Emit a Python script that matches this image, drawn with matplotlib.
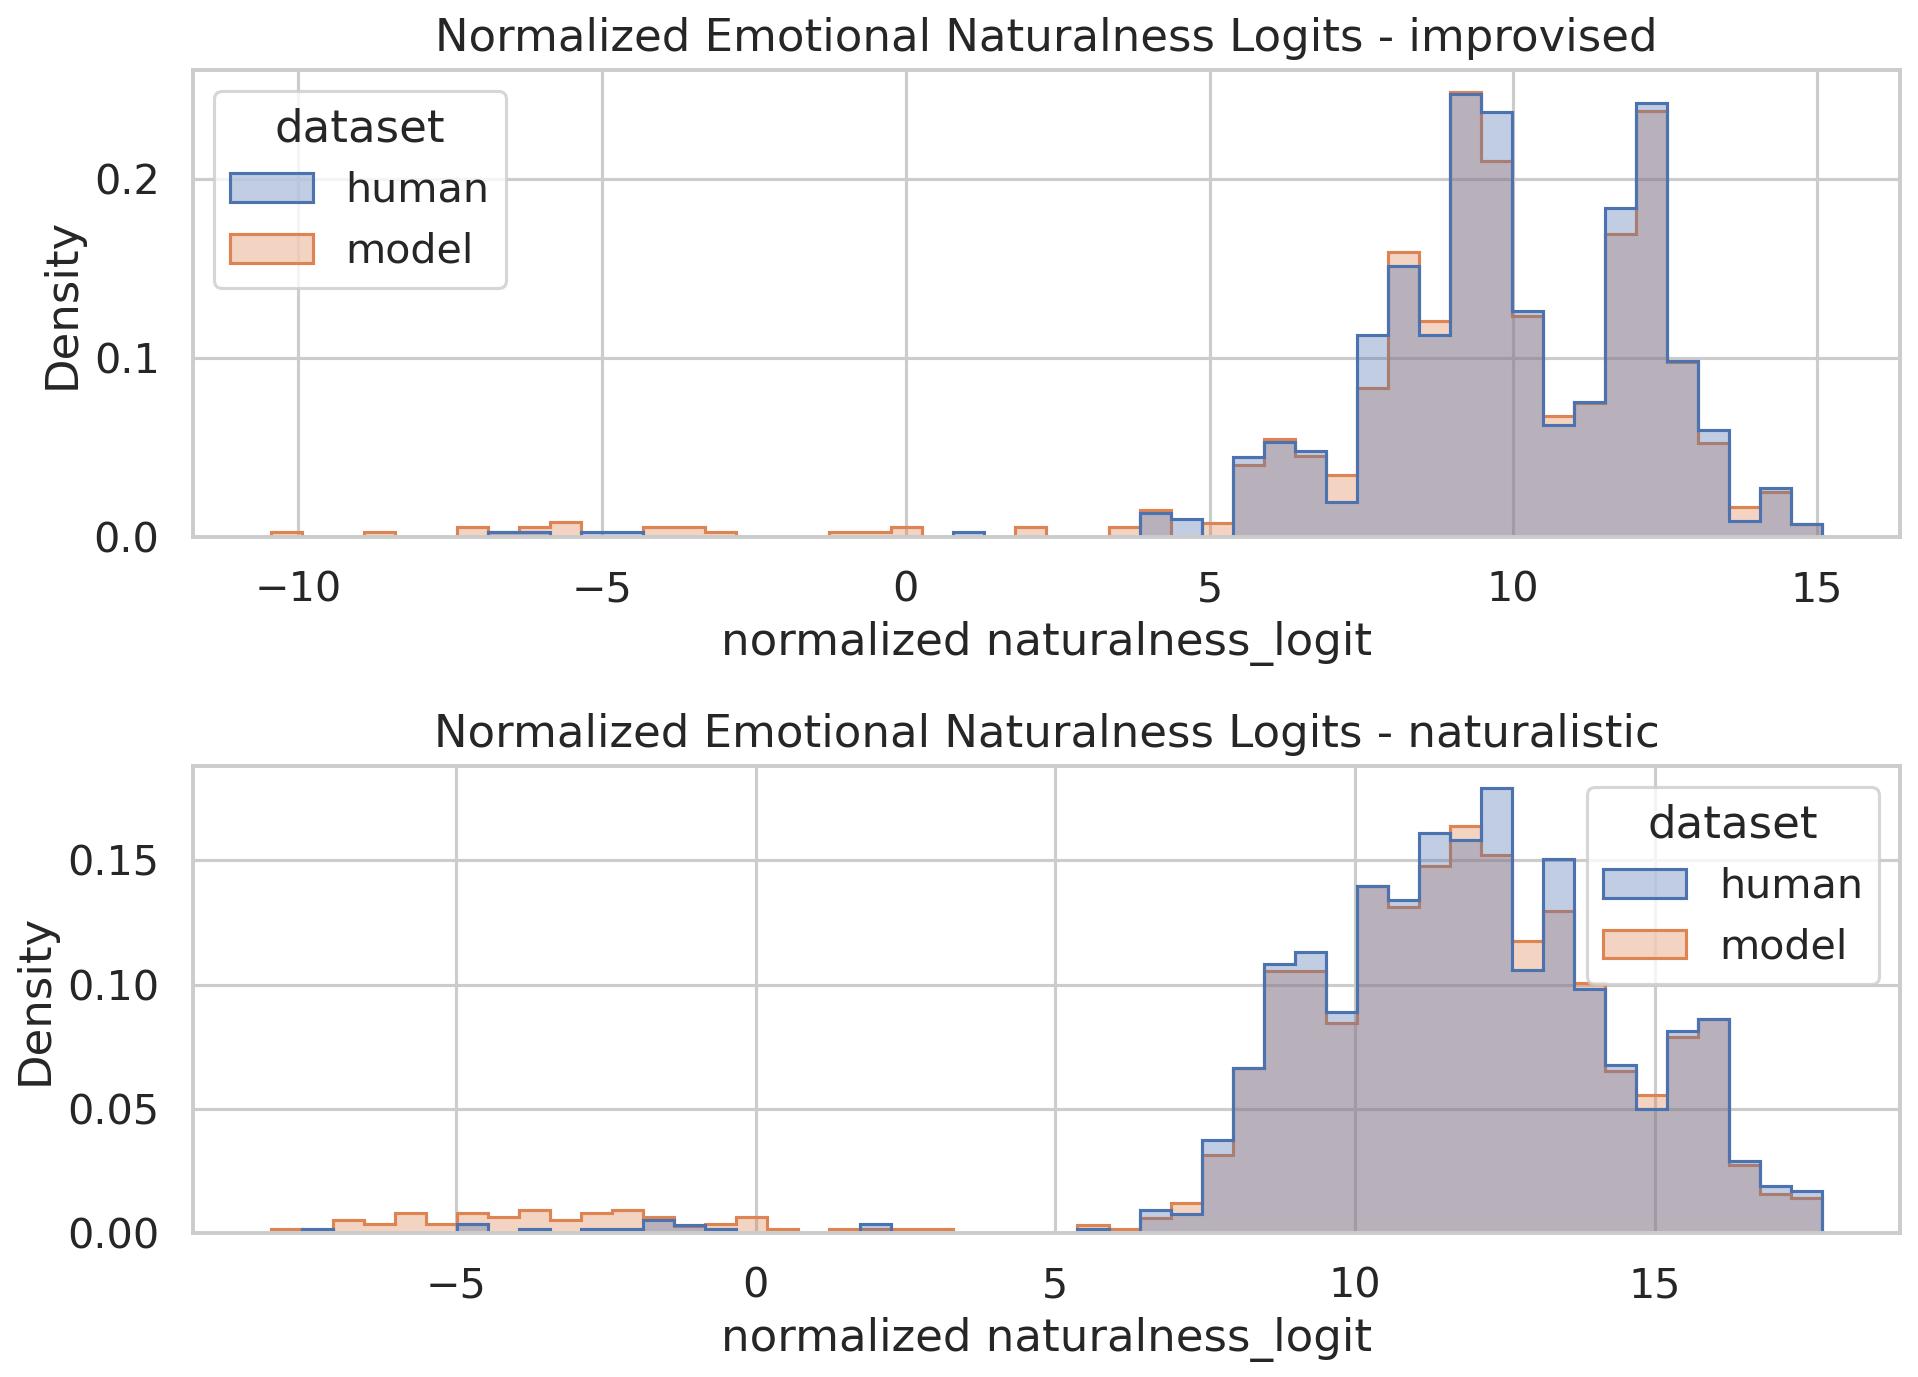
import numpy as np
import matplotlib
matplotlib.use("Agg")
import matplotlib.pyplot as plt
from matplotlib.patches import Patch
import seaborn as sns

# bins (50 equal-width bins per panel, shared by both datasets)
IMPROV_RANGE = (-10.46, 15.09)
NATUR_RANGE = (-8.10, 17.80)
N_BINS = 50

# density per bin, improvised
improv_human = [
    0, 0, 0, 0, 0, 0, 0, .0028, .0028, 0,
    .0028, .0028, 0, 0, 0, 0, 0, 0, 0, 0,
    0, 0, .0028, 0, 0, 0, 0, 0, .0133, .0101,
    0, .0447, .0530, .0479, .0194, .1131, .1516, .1131, .2475, .2375,
    .1260, .0627, .0752, .1839, .2423, .0982, .0599, .0092, .0272, .0072,
]
improv_model = [
    .0028, 0, 0, .0028, 0, 0, .0055, .0028, .0055, .0083,
    0, 0, .0055, .0055, .0028, 0, 0, 0, .0028, .0028,
    .0055, 0, 0, 0, .0055, 0, 0, .0055, .0151, 0,
    .0081, .0401, .0549, .0451, .0349, .0832, .1590, .1209, .2482, .2098,
    .1237, .0678, .0750, .1691, .2379, .0980, .0527, .0170, .0250, .0072,
]

# density per bin, naturalistic
natur_human = [
    0, .0017, 0, 0, 0, 0, .0036, 0, .0017, 0,
    .0017, .0017, .0051, .0034, .0017, 0, 0, 0, 0, .0036,
    0, 0, 0, 0, 0, 0, .0017, 0, .0091, .0078,
    .0375, .0664, .1084, .1131, .0888, .1397, .1340, .1610, .1580, .1790,
    .1057, .1507, .0980, .0677, .0497, .0813, .0860, .0288, .0191, .0167,
]
natur_model = [
    .0017, 0, .0051, .0036, .0080, .0036, .0080, .0064, .0093, .0051,
    .0080, .0093, .0064, .0030, .0036, .0063, .0017, 0, .0017, .0017,
    .0017, .0017, 0, 0, 0, 0, .0033, .0017, .0062, .0120,
    .0315, .0664, .1055, .1055, .0844, .1397, .1313, .1477, .1637, .1520,
    .1175, .1297, .1007, .0650, .0557, .0787, .0860, .0275, .0155, .0140,
]

sns.set_theme(style="whitegrid", context="talk", font_scale=1.2)
pal = sns.color_palette("deep")
COL_HUMAN = pal[0]
COL_MODEL = pal[1]
ALPHA = 0.35

panels = [
    ("improvised", IMPROV_RANGE, improv_human, improv_model, "upper left"),
    ("naturalistic", NATUR_RANGE, natur_human, natur_model, "upper right"),
]

fig, axes = plt.subplots(2, 1, figsize=(1918 / 150, 1377 / 150), dpi=150)

for ax, (name, rng, human, model, loc) in zip(axes, panels):
    edges = np.linspace(rng[0], rng[1], N_BINS + 1)
    # model underneath, human on top (seaborn layer order)
    for vals, col in [(model, COL_MODEL), (human, COL_HUMAN)]:
        ax.stairs(vals, edges, fill=True, facecolor=(*col, ALPHA),
                  edgecolor=col, linewidth=1.5)
    ax.autoscale()
    ax.margins(x=0.05, y=0.05)
    ax.set_ylim(bottom=0)
    ax.set_title(f"Normalized Emotional Naturalness Logits - {name}", pad=9)
    ax.set_xlabel("normalized naturalness_logit", labelpad=5)
    ax.set_ylabel("Density", labelpad=5)
    ax.tick_params(axis="both", pad=7)
    handles = [
        Patch(facecolor=(*COL_HUMAN, ALPHA), edgecolor=COL_HUMAN, linewidth=1.5, label="human"),
        Patch(facecolor=(*COL_MODEL, ALPHA), edgecolor=COL_MODEL, linewidth=1.5, label="model"),
    ]
    ax.legend(handles=handles, title="dataset", loc=loc)

axes[0].set_xticks([-10, -5, 0, 5, 10, 15])
axes[0].set_yticks([0.0, 0.1, 0.2])
axes[1].set_xticks([-5, 0, 5, 10, 15])
axes[1].set_yticks([0.0, 0.05, 0.10, 0.15])

fig.subplots_adjust(left=0.1006, right=0.9906, top=0.949, bottom=0.1046, hspace=0.49)
fig.savefig("out.png", dpi=150)
